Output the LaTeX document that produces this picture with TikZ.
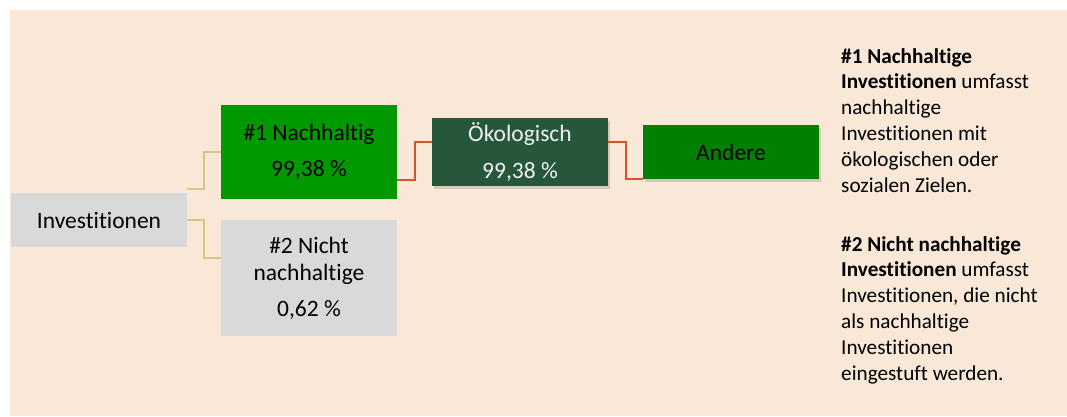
\documentclass[tikz,border=0pt]{standalone}
\usepackage{fontspec}
\setmainfont{Carlito}[Ligatures={NoCommon,NoRequired,NoContextual}]
\usetikzlibrary{shadows}
\definecolor{bg}{HTML}{F9E8D7}
\definecolor{graybox}{HTML}{D9D9D9}
\definecolor{greenA}{HTML}{009900}
\definecolor{darkgreen}{HTML}{26573B}
\definecolor{greenB}{HTML}{008000}
\definecolor{tanline}{HTML}{D5C683}
\definecolor{redline}{HTML}{D5522B}
\definecolor{lighttext}{HTML}{F2F2F2}
\begin{document}
\begin{tikzpicture}[x=1pt,y=-1pt,
  box/.style={rectangle, inner sep=0pt, minimum width=176pt, align=center,
    font=\fontsize{23.5}{27}\selectfont},
  shadowed/.style={drop shadow={opacity=0.3, shadow xshift=1.5pt, shadow yshift=-2.5pt}},
  tanconn/.style={draw=tanline, line width=2pt},
  redconn/.style={draw=redline, line width=2pt},
  note/.style={anchor=north west, inner sep=0pt, align=left,
    font=\fontsize{21.2}{25.8}\selectfont}]
\useasboundingbox (0,0) rectangle (1067,416);
\fill[white] (0,0) rectangle (1067,416);
\fill[bg] (10,10) rectangle (1067,416);

\node[box, fill=graybox, minimum height=54pt] (inv) at (99,220) {Investitionen};
\node[box, fill=greenA, minimum height=94pt] (n1) at (309,152) {\#1 Nachhaltig\\[9pt]99,38 \%};
\node[box, fill=graybox, minimum height=116pt] (n2) at (309,278) {\#2 Nicht\\nachhaltige\\[9pt]0,62 \%};
\node[box, fill=darkgreen, text=lighttext, minimum height=68pt, shadowed] (oeko) at (520,152) {Ökologisch\\[10pt]99,38 \%};
\node[box, fill=greenB, minimum height=54pt, shadowed] (andere) at (731,152) {Andere};

\draw[tanconn] ([yshift=4pt]inv.north east) -- ++(17,0) |- (n1.west);
\draw[tanconn] (inv.east) -- ++(17,0) |- ([yshift=20pt]n2.west);
\draw[redconn] ([yshift=-28pt]n1.east) -- ++(18,0) |- ([yshift=10pt]oeko.west);
\draw[redconn] ([yshift=10pt]oeko.east) -- ++(18,0) |- ([yshift=-27pt]andere.west);

\node[note] (t1) at (841,48) {\textbf{\#1 Nachhaltige}\\\textbf{Investitionen} umfasst\\nachhaltige\\Investitionen mit\\ökologischen oder\\sozialen Zielen.};
\node[note] (t2) at (841,236) {\textbf{\#2 Nicht nachhaltige}\\\textbf{Investitionen} umfasst\\Investitionen, die nicht\\als nachhaltige\\Investitionen\\eingestuft werden.};
\end{tikzpicture}
\end{document}
